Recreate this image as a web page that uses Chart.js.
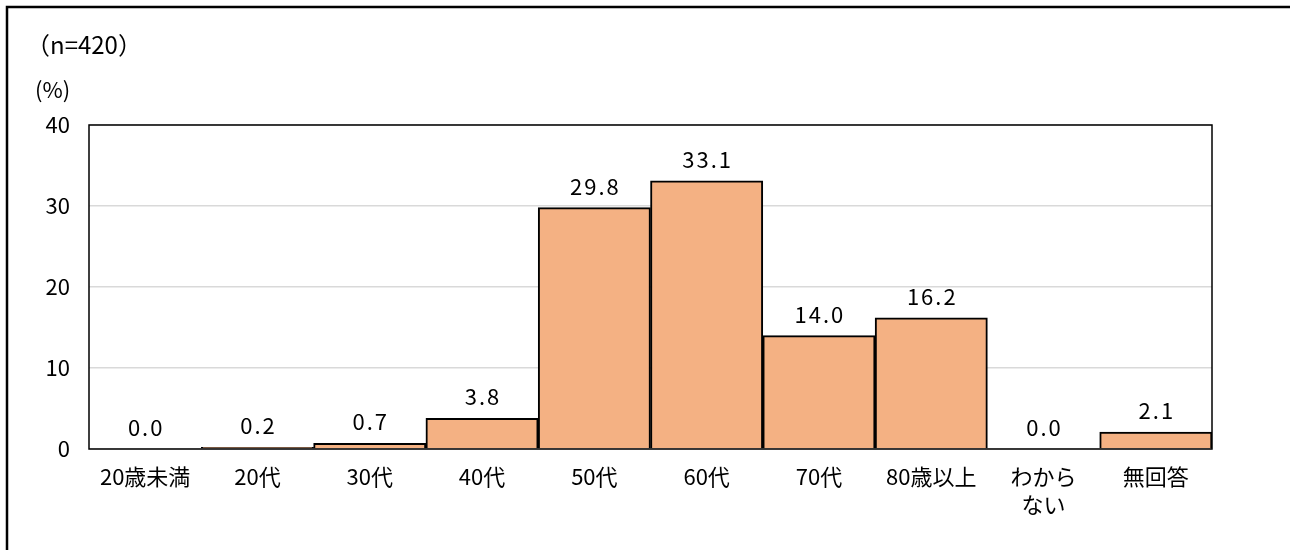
<!doctype html>
<html lang="ja">
<head>
  <meta charset="utf-8">
  <title>年代</title>
  <style>
    * { margin: 0; padding: 0; }
    body { background: #fff; }
    .chartBox { width: 1290px; height: 550px; }
  </style>
</head>
<body>
  <div class="chartBox">
    <canvas id="myChart" width="1290" height="550"></canvas>
  </div>
  <script src="https://cdn.jsdelivr.net/npm/chart.js"></script>
  <script>
    // data
    const categories = ['20歳未満', '20代', '30代', '40代', '50代', '60代', '70代', '80歳以上', ['わから', 'ない'], '無回答'];
    const percents = [0.0, 0.2, 0.7, 3.8, 29.8, 33.1, 14.0, 16.2, 0.0, 2.1];
    const yTicks = [0, 10, 20, 30, 40];
    const sampleNote = '（n=420）';
    const unitNote = '(%)';

    const FONT = "'Noto Sans CJK JP', sans-serif";

    // frame, notes, plot border and value labels
    const decorPlugin = {
      id: 'decor',
      beforeDraw(chart) {
        const { ctx } = chart;
        ctx.save();
        ctx.strokeStyle = '#000';
        ctx.lineWidth = 2.5;
        ctx.beginPath();
        ctx.moveTo(7, 560);
        ctx.lineTo(7, 7);
        ctx.lineTo(1300, 7);
        ctx.stroke();

        ctx.fillStyle = '#000';
        ctx.textBaseline = 'middle';
        ctx.textAlign = 'left';
        ctx.font = '24px ' + FONT;
        ctx.fillText(sampleNote, 26, 45);
        ctx.font = '22px ' + FONT;
        ctx.fillText(unitNote, 35, 90);
        ctx.restore();
      },
      afterDatasetsDraw(chart) {
        const { ctx, chartArea: { top, left, width, height } } = chart;
        ctx.save();
        ctx.strokeStyle = '#000';
        ctx.lineWidth = 1.5;
        ctx.strokeRect(left, top, width, height);

        const meta = chart.getDatasetMeta(0);
        ctx.fillStyle = '#000';
        ctx.font = '22px ' + FONT;
        ctx.textAlign = 'center';
        ctx.textBaseline = 'alphabetic';
        ctx.letterSpacing = '2px';
        meta.data.forEach((bar, i) => {
          ctx.fillText(percents[i].toFixed(1), bar.x + 1, bar.y - 13);
        });
        ctx.restore();
      }
    };

    const config = {
      type: 'bar',
      data: {
        labels: categories,
        datasets: [{
          data: percents,
          backgroundColor: '#F4B183',
          borderColor: '#000',
          borderWidth: 2,
          categoryPercentage: 1,
          barPercentage: 1
        }]
      },
      options: {
        responsive: false,
        animation: false,
        layout: { padding: { top: 125, right: 78, left: 0, bottom: 0 } },
        plugins: {
          legend: { display: false },
          tooltip: { enabled: false }
        },
        scales: {
          x: {
            grid: { display: false, drawTicks: false },
            border: { display: false },
            ticks: {
              color: '#000',
              padding: 13,
              maxRotation: 0,
              autoSkip: false,
              font: { family: FONT, size: 22, lineHeight: 1.3 }
            },
            afterFit(scale) { scale.height = 101; }
          },
          y: {
            min: 0,
            max: 40,
            afterBuildTicks(scale) { scale.ticks = yTicks.map(v => ({ value: v })); },
            grid: { color: '#d9d9d9', lineWidth: 1.5, drawTicks: false },
            border: { display: false },
            ticks: {
              color: '#000',
              padding: 19,
              font: { family: FONT, size: 22 }
            },
            afterFit(scale) { scale.width = 89; }
          }
        }
      },
      plugins: [decorPlugin]
    };

    const myChart = new Chart(document.getElementById('myChart'), config);
  </script>
</body>
</html>
